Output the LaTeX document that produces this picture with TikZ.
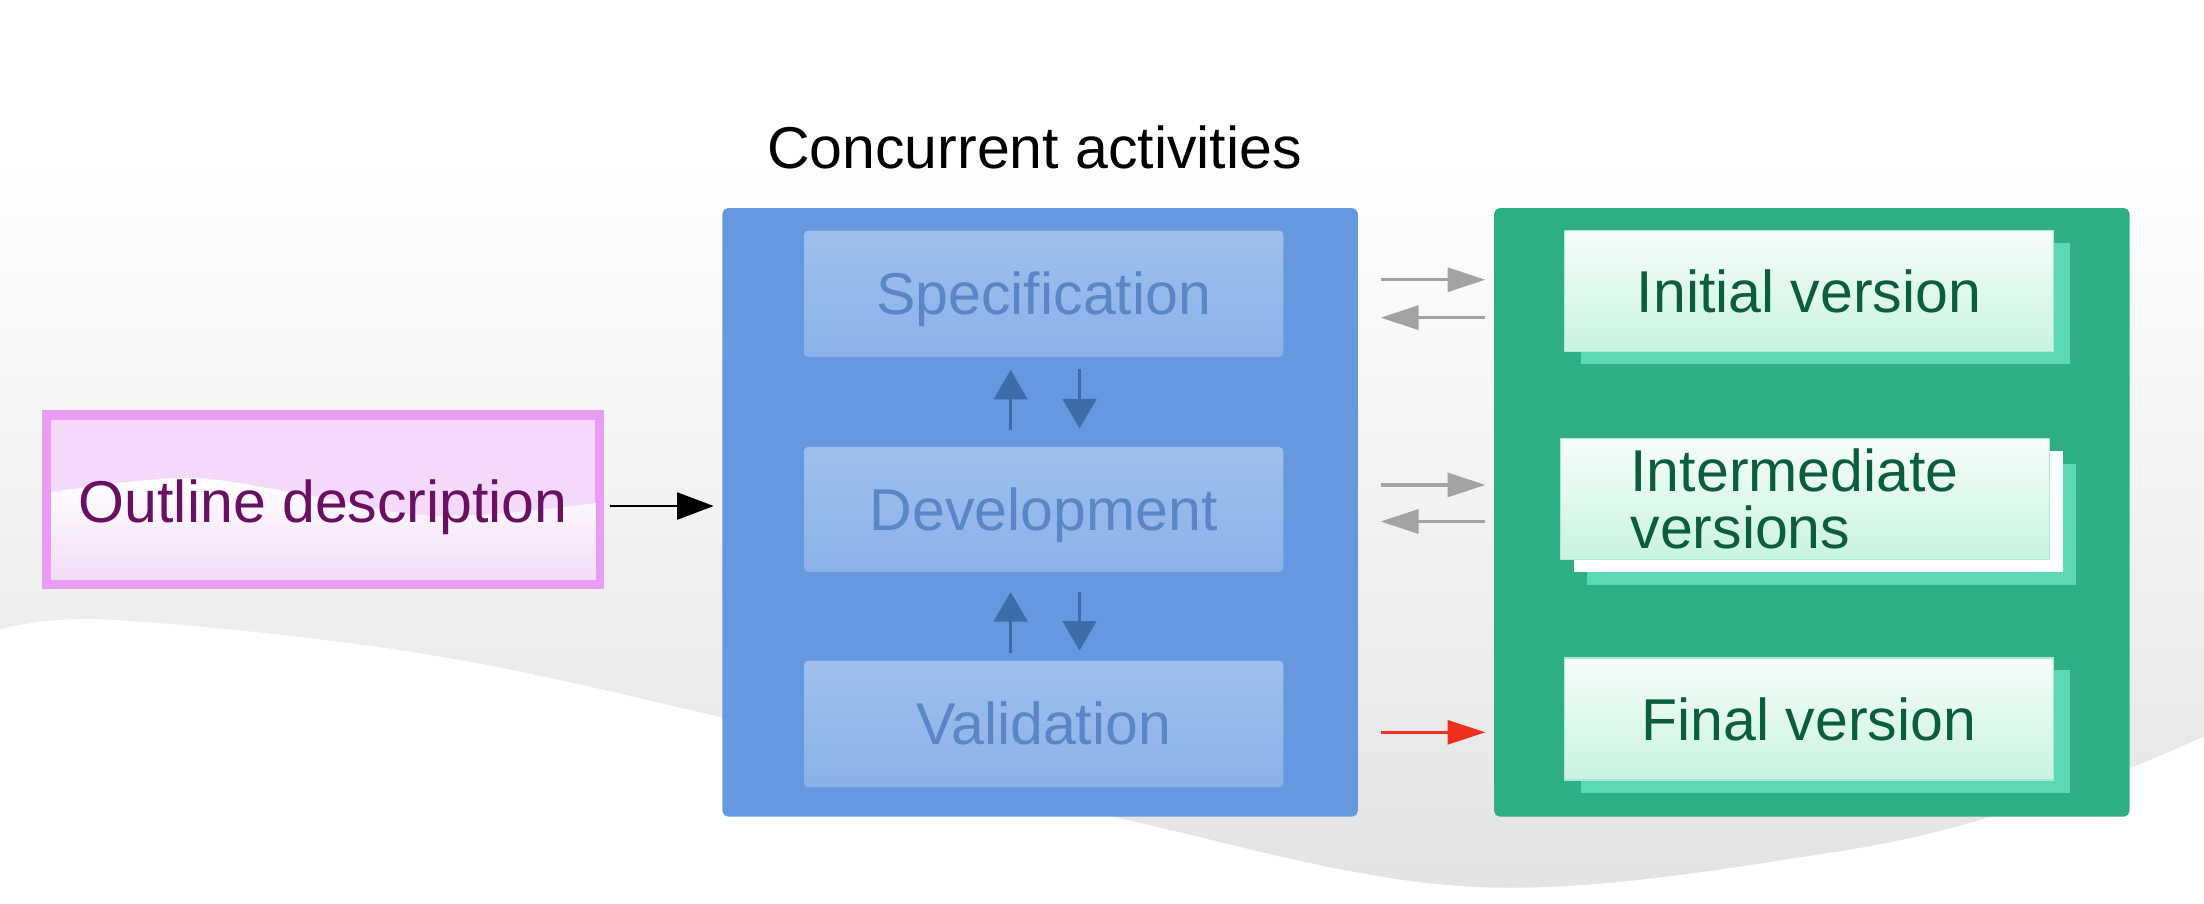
\documentclass[tikz,border=0pt]{standalone}
\usepackage{fontspec}
\setmainfont{Liberation Sans}
\usetikzlibrary{arrows.meta,calc,shadows}
\definecolor{bluebox}{HTML}{6698E0}
\definecolor{blueinT}{HTML}{A0BFEC}
\definecolor{blueinB}{HTML}{8AB2E8}
\definecolor{bluetext}{HTML}{5A86C6}
\definecolor{bluearrow}{HTML}{3E6BAA}
\definecolor{greenbox}{HTML}{2EAE85}
\definecolor{mint}{HTML}{5DD8B5}
\definecolor{cardT}{HTML}{F6FDF9}
\definecolor{cardB}{HTML}{C9F3E0}
\definecolor{cardborder}{HTML}{A8EBD2}
\definecolor{cardtext}{HTML}{0B5E3C}
\definecolor{pinkborder}{HTML}{E99CF3}
\definecolor{pinkT}{HTML}{F5D9FA}
\definecolor{pinkB}{HTML}{F1DCF6}
\definecolor{purpletext}{HTML}{6A1062}
\definecolor{grayarrow}{HTML}{A3A3A3}
\definecolor{redarrow}{HTML}{F0301C}
\definecolor{bgray}{HTML}{E3E3E3}
\tikzset{
  capcenter/.style={text height=30pt, text depth=0pt},
  container/.style={rounded corners=4pt, minimum width=452pt, minimum height=433pt, inner sep=0pt},
  inbox/.style={rounded corners=3pt, top color=blueinT, bottom color=blueinB, minimum width=341pt, inner sep=0pt, text=bluetext, capcenter},
  card/.style={draw=cardborder, line width=1pt, top color=cardT, bottom color=cardB, minimum width=348pt, minimum height=86pt, inner sep=0pt, text=cardtext},
  cardshadow/.style={general shadow={shadow xshift=12pt, shadow yshift=-9pt, fill=mint, draw=none}},
  blk/.style={draw=black, line width=2pt, -{Triangle[length=26pt,width=19pt]}},
  garrow/.style={draw=grayarrow, line width=2.5pt, -{Triangle[length=27pt,width=17pt]}},
  rarrow/.style={draw=redarrow, line width=2.5pt, -{Triangle[length=27pt,width=17pt]}},
  barrow/.style={draw=bluearrow, line width=2pt, -{Triangle[length=21pt,width=24pt]}},
}
\begin{document}
\begin{tikzpicture}[x=1pt,y=-1pt,font=\fontsize{42}{40}\selectfont]
\useasboundingbox (0,0) rectangle (1568,643);
% background
\fill[white] (0,0) rectangle (1568,643);
\shade[top color=white, bottom color=bgray] (0,110) rectangle (1568,643);
\fill[white] plot[smooth, tension=0.6] coordinates {(0,448) (80,441) (300,465) (520,512) (800,583) (1050,631) (1300,607) (1450,571) (1568,524)} -- (1568,643) -- (0,643) -- cycle;

% title
\node[capcenter] (title) at (736,105) {Concurrent activities};

% outline description
\node[draw=pinkborder, line width=6.5pt, fill=pinkT, minimum width=393.5pt, minimum height=120.5pt, inner sep=0pt] (outline) at (230,355.5) {};
\shade[top color=white, bottom color=pinkB] plot[smooth, tension=0.6] coordinates {(36.5,350) (131,340) (207,350) (310,367) (423.5,358)} -- (423.5,412.5) -- (36.5,412.5) -- cycle;
\node[text=purpletext, capcenter] (outlinetext) at (230,357) {Outline description};

% containers
\node[container, fill=bluebox] (blue) at (740,364.5) {};
\node[container, fill=greenbox] (green) at (1289,364.5) {};

% activities
\node[inbox, minimum height=90pt] (spec) at (742.5,209) {Specification};
\node[inbox, minimum height=89pt] (dev) at (742.5,362.5) {Development};
\node[inbox, minimum height=90pt] (val) at (742.5,515) {Validation};

% versions
\node[card, cardshadow, capcenter] (init) at (1287,207) {Initial version};
\node[card, general shadow={shadow xshift=19pt, shadow yshift=-18pt, fill=mint, draw=none},
      general shadow={shadow xshift=10pt, shadow yshift=-9pt, fill=white, draw=none},
      align=left, text width=248pt, inner xsep=50pt] (inter) at (1284,355) {Intermediate\\versions};
\node[card, cardshadow, capcenter, minimum height=87pt] (final) at (1287,511.5) {Final version};

% connectors
\coordinate (yo) at (0,360);
\draw[blk, shorten <=4pt, shorten >=6pt] (outline.east |- yo) -- (blue.west |- yo);

\coordinate (ya) at (0,199);
\coordinate (yb) at (0,226);
\coordinate (yc) at (0,345);
\coordinate (yd) at (0,371);
\coordinate (ye) at (0,521);
\draw[garrow, shorten <=16pt, shorten >=6pt] (blue.east |- ya) -- (green.west |- ya);
\draw[garrow, shorten <=6pt, shorten >=16pt] (green.west |- yb) -- (blue.east |- yb);
\draw[garrow, shorten <=16pt, shorten >=6pt] (blue.east |- yc) -- (green.west |- yc);
\draw[garrow, shorten <=6pt, shorten >=16pt] (green.west |- yd) -- (blue.east |- yd);
\draw[rarrow, shorten <=16pt, shorten >=6pt] (blue.east |- ye) -- (green.west |- ye);

\draw[barrow, shorten <=12pt, shorten >=9pt] ([xshift=-23.5pt]dev.north) -- ([xshift=-23.5pt]spec.south);
\draw[barrow, shorten <=8pt, shorten >=13pt] ([xshift=25.5pt]spec.south) -- ([xshift=25.5pt]dev.north);
\draw[barrow, shorten <=5pt, shorten >=14pt] ([xshift=-23.5pt]val.north) -- ([xshift=-23.5pt]dev.south);
\draw[barrow, shorten <=14pt, shorten >=7pt] ([xshift=25.5pt]dev.south) -- ([xshift=25.5pt]val.north);
\end{tikzpicture}
\end{document}
